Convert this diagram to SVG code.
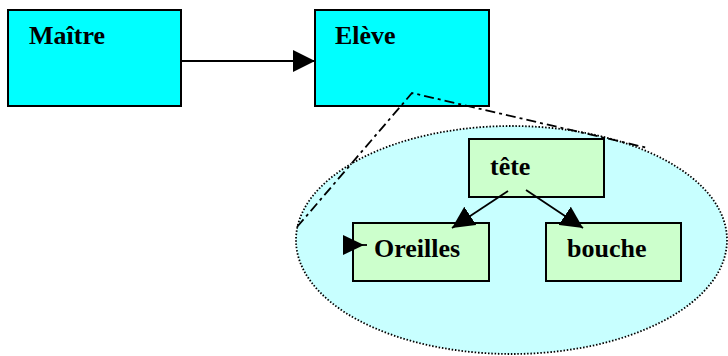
<svg xmlns="http://www.w3.org/2000/svg" width="728" height="356" viewBox="0 0 728 356">
<style>
.cyan{fill:#00ffff;stroke:#000;stroke-width:2}
.green{fill:#ccffcc;stroke:#000;stroke-width:2}
.lbl{font-family:"Liberation Serif","Times New Roman",serif;font-weight:bold;font-size:26px;fill:#000}
.conn{stroke:#000;stroke-width:1.8;fill:none}
</style>
<defs>
<marker id="ah" markerUnits="userSpaceOnUse" markerWidth="22" markerHeight="22" viewBox="0 0 20 20" refX="20" refY="10" orient="auto">
<path d="M0,0 L20,10 L0,20 Z" fill="#000"/>
</marker>
</defs>
<rect x="0" y="0" width="728" height="356" fill="#fff"/>
<g id="zoom-ellipse">
<ellipse cx="511.5" cy="240" rx="215.5" ry="114" fill="#c8ffff" stroke="#000" stroke-width="1.8" stroke-dasharray="1.5 1.8"/>
</g>
<g id="maitre">
<rect class="cyan" x="8" y="10" width="173" height="96"/>
<text class="lbl" x="29" y="44">Maître</text>
</g>
<g id="eleve">
<rect class="cyan" x="315" y="10" width="174" height="96"/>
<text class="lbl" x="335" y="44">Elève</text>
</g>
<g id="tete">
<rect class="green" x="469" y="139" width="135" height="58"/>
<text class="lbl" x="490" y="175">tête</text>
</g>
<g id="oreilles">
<rect class="green" x="353" y="223" width="136" height="58"/>
<text class="lbl" x="374" y="257">Oreilles</text>
</g>
<g id="bouche">
<rect class="green" x="546" y="223" width="135" height="58"/>
<text class="lbl" x="567" y="257">bouche</text>
</g>
<g id="connectors">
<line class="conn" x1="181" y1="61" x2="315" y2="61" marker-end="url(#ah)"/>
<line class="conn" x1="508" y1="191" x2="452" y2="228" marker-end="url(#ah)"/>
<line class="conn" x1="526" y1="190" x2="583" y2="228" marker-end="url(#ah)"/>
<polyline class="conn" points="297,227 412,93 648,148" stroke-width="2" stroke-dasharray="10 4 3 4"/>
<path d="M343,235 L364,245 L343,255 Z" fill="#000"/>
<line class="conn" x1="362" y1="245" x2="367" y2="245"/>
</g>
</svg>
